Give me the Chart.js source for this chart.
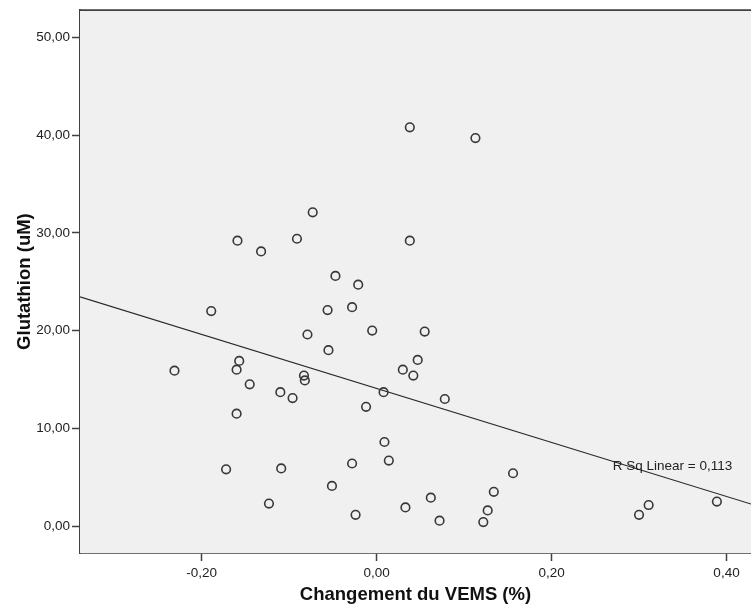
<!DOCTYPE html>
<html>
<head>
<meta charset="utf-8">
<title>Glutathion vs Changement du VEMS</title>
<script src="https://cdn.jsdelivr.net/npm/chart.js@4.4.1/dist/chart.umd.min.js"></script>
<style>
    html, body { margin: 0; padding: 0; background: #ffffff; }
    #wrap { width: 751px; height: 608px; }
</style>
</head>
<body>
<div id="wrap"><canvas id="scatterChart" width="751" height="608"></canvas></div>
<script>
// --- Données ---
const vemsChange = [
    -0.231, -0.189, -0.172, -0.160, -0.157, -0.160, -0.159, -0.145, -0.132, -0.123,
    -0.110, -0.109, -0.096, -0.091, -0.083, -0.082, -0.079, -0.073, -0.056, -0.055,
    -0.051, -0.047, -0.028, -0.028, -0.024, -0.021, -0.012, -0.005, 0.008, 0.009,
    0.014, 0.030, 0.033, 0.038, 0.038, 0.042, 0.047, 0.055, 0.062, 0.072,
    0.078, 0.113, 0.122, 0.127, 0.134, 0.156, 0.300, 0.311, 0.389
];
const glutathion = [
    15.9, 22.0, 5.8, 16.0, 16.9, 11.5, 29.2, 14.5, 28.1, 2.3,
    13.7, 5.9, 13.1, 29.4, 15.4, 14.9, 19.6, 32.1, 22.1, 18.0,
    4.1, 25.6, 22.4, 6.4, 1.15, 24.7, 12.2, 20.0, 13.7, 8.6,
    6.7, 16.0, 1.9, 40.8, 29.2, 15.4, 17.0, 19.9, 2.9, 0.55,
    13.0, 39.7, 0.4, 1.6, 3.5, 5.4, 1.15, 2.15, 2.5
];

// Droite de régression (extrémités)
const fitX = [-0.339, 0.428];
const fitY = [23.45, 2.25];

// Graduations des axes
const xTicks = [-0.20, 0.00, 0.20, 0.40];
const yTicks = [0, 10, 20, 30, 40, 50];

const rSqLabel = 'R Sq Linear = 0,113';

const FONT = '"Liberation Sans", Arial, sans-serif';
const INK = '#383838';
const AXIS = '#404040';

// Format décimal à la française : 0,20
const formatComma = (v) => v.toFixed(2).replace('.', ',');

const scatterPoints = vemsChange.map((x, i) => ({ x: x, y: glutathion[i] }));
const fitPoints = fitX.map((x, i) => ({ x: x, y: fitY[i] }));

// Fond gris de la zone de tracé + bordure haute + texte R²
const plotFramePlugin = {
    id: 'plotFrame',
    beforeDatasetsDraw(chart) {
        const { ctx, chartArea } = chart;
        ctx.save();
        ctx.fillStyle = '#f0f0f0';
        ctx.fillRect(chartArea.left, chartArea.top, chartArea.right - chartArea.left, chartArea.bottom - chartArea.top);
        ctx.restore();
    },
    afterDraw(chart) {
        const { ctx, chartArea, scales } = chart;
        ctx.save();
        ctx.strokeStyle = AXIS;
        ctx.lineWidth = 1.8;
        ctx.beginPath();
        ctx.moveTo(chartArea.left, chartArea.top);
        ctx.lineTo(chartArea.right, chartArea.top);
        ctx.stroke();

        // étiquette du R² posée en coordonnées de données
        ctx.fillStyle = '#222222';
        ctx.font = '13.5px ' + FONT;
        ctx.textAlign = 'left';
        ctx.textBaseline = 'middle';
        ctx.fillText(rSqLabel, scales.x.getPixelForValue(0.270), scales.y.getPixelForValue(6.13));
        ctx.restore();
    }
};

const ctx = document.getElementById('scatterChart').getContext('2d');

const myChart = new Chart(ctx, {
    type: 'scatter',
    data: {
        datasets: [
            {
                label: 'Glutathion',
                data: scatterPoints,
                pointRadius: 4.3,
                pointHoverRadius: 4.3,
                pointBorderWidth: 1.6,
                pointBorderColor: INK,
                pointBackgroundColor: 'rgba(0,0,0,0)',
                order: 1
            },
            {
                type: 'line',
                label: 'Fit',
                data: fitPoints,
                borderColor: '#2a2a2a',
                borderWidth: 1.1,
                pointRadius: 0,
                fill: false,
                tension: 0,
                order: 2
            }
        ]
    },
    plugins: [plotFramePlugin],
    options: {
        responsive: false,
        animation: false,
        devicePixelRatio: 1,
        // autoPadding désactivé : sinon Chart.js réserve la place du rayon des points à droite
        layout: { autoPadding: false, padding: { top: 9.5, right: 0, bottom: 0, left: 0 } },
        plugins: {
            legend: { display: false },
            tooltip: { enabled: false }
        },
        scales: {
            x: {
                type: 'linear',
                min: -0.339,
                max: 0.428,
                afterFit(scale) {
                    scale.height = 55;
                    scale.paddingLeft = 0;
                    scale.paddingRight = 0;
                },
                afterBuildTicks(scale) { scale.ticks = xTicks.map(v => ({ value: v })); },
                border: { display: true, color: AXIS, width: 1.8 },
                grid: { drawOnChartArea: false, drawTicks: true, tickLength: 8, tickColor: AXIS, tickWidth: 1.5 },
                ticks: {
                    padding: 4,
                    color: '#222222',
                    font: { family: FONT, size: 13.5 },
                    callback: (v) => formatComma(v)
                },
                title: {
                    display: true,
                    text: 'Changement du VEMS (%)',
                    color: '#111111',
                    font: { family: FONT, size: 18.5, weight: 'bold' },
                    padding: { top: 0, bottom: 2 }
                }
            },
            y: {
                type: 'linear',
                min: -2.76,
                max: 52.8,
                afterFit(scale) { scale.width = 80; },
                afterBuildTicks(scale) { scale.ticks = yTicks.map(v => ({ value: v })); },
                border: { display: true, color: AXIS, width: 1.8 },
                grid: { drawOnChartArea: false, drawTicks: true, tickLength: 8, tickColor: AXIS, tickWidth: 1.5 },
                ticks: {
                    padding: 2,
                    color: '#222222',
                    font: { family: FONT, size: 13.5 },
                    callback: (v) => formatComma(v)
                },
                title: {
                    display: true,
                    text: 'Glutathion (uM)',
                    color: '#111111',
                    font: { family: FONT, size: 18.5, weight: 'bold' },
                    padding: { top: 14, bottom: 0 }
                }
            }
        }
    }
});
</script>
</body>
</html>
